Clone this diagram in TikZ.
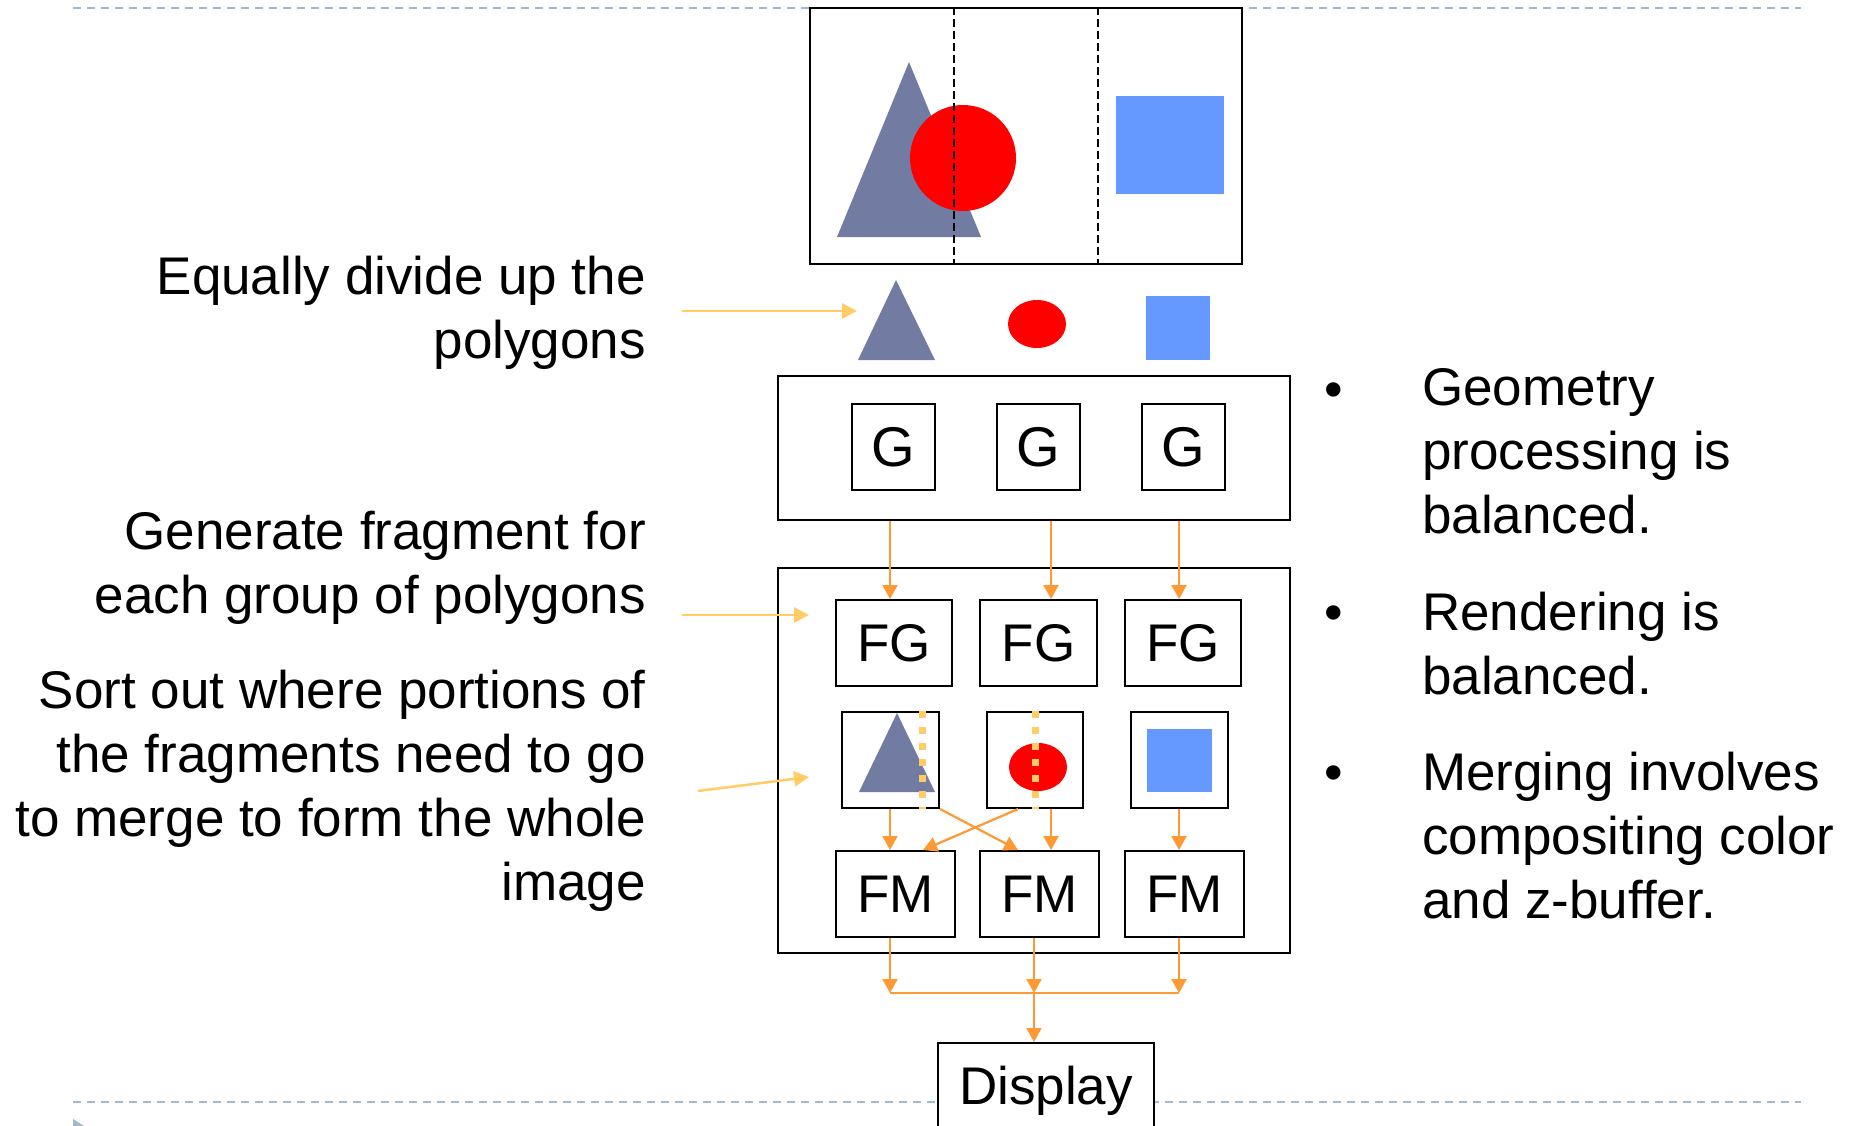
\documentclass[tikz,border=0pt]{standalone}
\usepackage{fontspec}
\setmainfont{Liberation Sans}
\usetikzlibrary{arrows.meta}

\definecolor{slate}{RGB}{114,124,163}
\definecolor{polyred}{RGB}{255,0,0}
\definecolor{polyblue}{RGB}{102,153,255}
\definecolor{flow}{RGB}{255,153,51}
\definecolor{pointer}{RGB}{255,204,102}
\definecolor{slidegray}{RGB}{163,184,204}

\begin{document}
\begin{tikzpicture}[x=1pt,y=-1pt,
  frame/.style={draw=black, line width=2pt, fill=white, inner sep=0pt},
  unit/.style={frame, font=\fontsize{53}{60}\selectfont},
  gunit/.style={frame, font=\fontsize{56}{62}\selectfont},
  flowarrow/.style={draw=flow, line width=2.2pt, -{Triangle[width=15pt,length=14pt]}},
  flowline/.style={draw=flow, line width=2pt},
  pointerarrow/.style={draw=pointer, line width=2.5pt, -{Triangle[width=15pt,length=15pt]}},
  caption/.style={inner sep=0pt, font=\fontsize{53}{64}\selectfont},
  sliderule/.style={draw=slidegray, line width=2pt, dash pattern=on 8pt off 6pt},
  split/.style={draw=black, line width=1.5pt, dash pattern=on 8pt off 4pt},
  seam/.style={draw=pointer, line width=7pt, dash pattern=on 7pt off 9pt},
]
\useasboundingbox (0,0) rectangle (1854,1125);
\clip (0,0) rectangle (1854,1125);

% slide rules and corner marker
\draw[sliderule] (73,8) -- (1801,8);
\draw[sliderule] (73,1102) -- (1801,1102);
\fill[slidegray] (73,1119) -- (84,1126) -- (73,1133) -- cycle;

% the whole scene, cut into three strips
\node[frame, minimum width=432pt, minimum height=256pt] (topbox) at (1026,136) {};
\fill[slate] (909,62) -- (981,237) -- (837,237) -- cycle;
\fill[polyred] (963,158) circle[radius=53pt];
\fill[polyblue] (1116,96) rectangle (1224,194);
\coordinate (cutA) at (954,0);
\coordinate (cutB) at (1098,0);
\draw[split] (topbox.north -| cutA) -- (topbox.south -| cutA);
\draw[split] (topbox.north -| cutB) -- (topbox.south -| cutB);

% the polygons handed out one per processor
\fill[slate] (896,280) -- (935,360) -- (858,360) -- cycle;
\fill[polyred] (1037,324) ellipse[x radius=29pt, y radius=24pt];
\fill[polyblue] (1146,296) rectangle (1210,360);

% geometry stage
\node[frame, minimum width=512pt, minimum height=144pt] (gcont) at (1034,448) {};
\node[gunit, minimum width=83pt, minimum height=86pt] (g1) at (893.5,447) {G};
\node[gunit, minimum width=83pt, minimum height=86pt] (g2) at (1038.5,447) {G};
\node[gunit, minimum width=83pt, minimum height=86pt] (g3) at (1183,447) {G};

% rasterisation and merge stage
\node[frame, minimum width=512pt, minimum height=385pt] (fcont) at (1034,760.5) {};
\node[unit, minimum width=116pt, minimum height=86pt] (fg1) at (894,643) {FG};
\node[unit, minimum width=117pt, minimum height=86pt] (fg2) at (1038.5,643) {FG};
\node[unit, minimum width=116pt, minimum height=86pt] (fg3) at (1183,643) {FG};
\node[frame, minimum width=97pt, minimum height=96pt] (m1) at (890.5,760) {};
\node[frame, minimum width=96pt, minimum height=96pt] (m2) at (1035,760) {};
\node[frame, minimum width=97pt, minimum height=96pt] (m3) at (1179.5,760) {};
\node[unit, minimum width=119pt, minimum height=86pt] (fm1) at (895.5,894) {FM};
\node[unit, minimum width=119pt, minimum height=86pt] (fm2) at (1039.5,894) {FM};
\node[unit, minimum width=119pt, minimum height=86pt] (fm3) at (1184.5,894) {FM};

% fragments with their split lines
\coordinate (seamA) at (922,0);
\coordinate (seamB) at (1035,0);
\fill[slate] (897,713) -- (935,792) -- (859,792) -- cycle;
\draw[seam] (m1.north -| seamA) -- (m1.south -| seamA);
\fill[polyred] (1038,767) ellipse[x radius=29pt, y radius=24pt];
\draw[seam] (m2.north -| seamB) -- (m2.south -| seamB);
\fill[polyblue] (1147,729) rectangle (1212,792);

% data flow
\coordinate (ca) at (890,0);
\coordinate (cb) at (1051,0);
\coordinate (cc) at (1179,0);
\coordinate (cm) at (1034,0);
\coordinate (xin) at (1018,0);
\coordinate (xout) at (923,0);
\draw[flowarrow] (gcont.south -| ca) -- (fg1.north -| ca);
\draw[flowarrow] (gcont.south -| cb) -- (fg2.north -| cb);
\draw[flowarrow] (gcont.south -| cc) -- (fg3.north -| cc);
\draw[flowarrow] (m1.south -| ca) -- (fm1.north -| ca);
\draw[flowarrow] (m2.south -| cb) -- (fm2.north -| cb);
\draw[flowarrow] (m3.south -| cc) -- (fm3.north -| cc);
\draw[flowarrow] (m1.south east) -- (fm2.north -| xin);
\draw[flowarrow] (m2.south -| xin) -- (fm1.north -| xout);

% final composition
\node[frame, minimum width=216pt, minimum height=96pt, font=\fontsize{53}{64}\selectfont] (display) at (1046,1091) {Display};
\coordinate (merge) at (1034,993);
\draw[flowline] (merge -| ca) -- (merge -| cc);
\draw[flowarrow] (fm1.south -| ca) -- (merge -| ca);
\draw[flowarrow] (fm2.south -| cm) -- (merge);
\draw[flowarrow] (fm3.south -| cc) -- (merge -| cc);
\draw[flowarrow] (merge) -- (display.north -| cm);

% explanations on the left
\node[caption, align=right, anchor=north east] (divide) at (646,256) {Equally divide up the\\polygons};
\node[caption, align=right, anchor=north east] (generate) at (646,511) {Generate fragment for\\each group of polygons};
\node[caption, align=right, anchor=north east] (sortout) at (646,670) {Sort out where portions of\\the fragments need to go\\to merge to form the whole\\image};
\coordinate (divfrom) at (682,311);
\coordinate (divto) at (857,311);
\coordinate (genfrom) at (682,615);
\coordinate (gento) at (809,615);
\coordinate (sortfrom) at (698,791);
\coordinate (sortto) at (809,777);
\draw[pointerarrow] (divfrom) -- (divto);
\draw[pointerarrow] (genfrom) -- (gento);
\draw[pointerarrow] (sortfrom) -- (sortto);

% remarks on the right
\node[caption, anchor=base] (bulA) at (1334,407) {•};
\node[caption, anchor=base] (bulB) at (1334,630) {•};
\node[caption, anchor=base] (bulC) at (1334,790) {•};
\node[caption, align=left, anchor=north west] (geomnote) at (1422,368) {Geometry\\processing is\\balanced.};
\node[caption, align=left, anchor=north west] (rendnote) at (1422,592) {Rendering is\\balanced.};
\node[caption, align=left, anchor=north west] (mergenote) at (1422,752) {Merging involves\\compositing color\\and z-buffer.};
\end{tikzpicture}
\end{document}
